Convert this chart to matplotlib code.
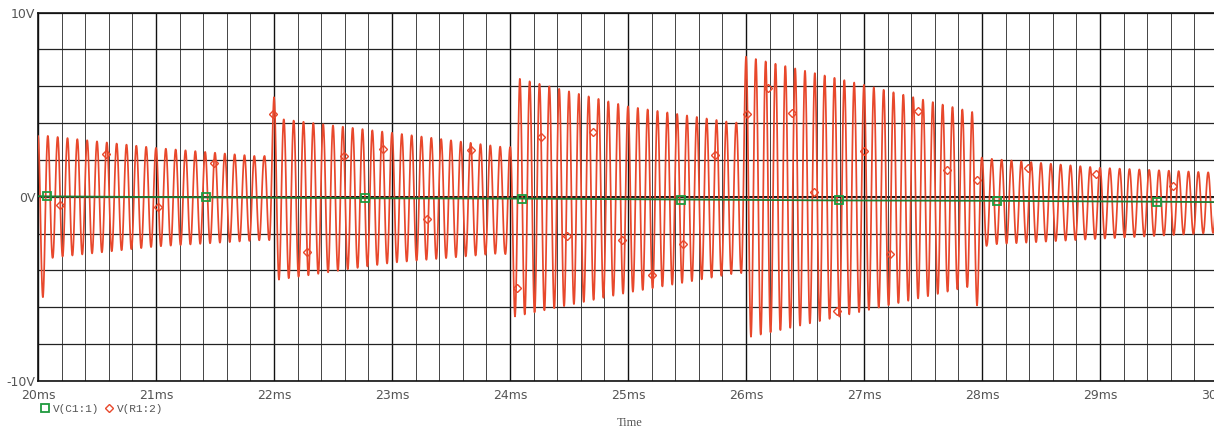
import matplotlib
matplotlib.use("Agg")
import matplotlib.pyplot as plt
import numpy as np
from matplotlib.lines import Line2D

plt.rcParams["path.simplify"] = False

# carrier of the V(R1:2) trace, kHz (about 12 cycles per ms)
carrier_khz = 12.0

# envelope knots (ms, V): upper = peaks, lower = troughs
upper_t = [20.083, 21.0, 21.917, 22.0, 22.083, 23.0, 24.0, 24.083, 25.0, 25.917,
           26.0, 27.0, 27.917, 28.0, 29.0, 30.0]
upper_v = [3.3, 2.65, 2.17, 5.4, 4.2, 3.47, 2.65, 6.4, 4.9, 4.0,
           7.6, 6.07, 4.6, 2.1, 1.57, 1.3]
lower_t = [20.042, 20.125, 21.0, 21.958, 22.042, 23.0, 23.958, 24.042, 25.0, 25.958,
           26.042, 27.0, 27.875, 27.958, 28.042, 29.0, 30.0]
lower_v = [-5.45, -3.3, -2.7, -2.33, -4.5, -3.58, -3.05, -6.5, -5.2, -4.1,
           -7.6, -6.2, -4.9, -5.9, -2.6, -2.28, -1.95]

# V(R1:2) marker symbols
r_mark_t = [20.19, 20.58, 21.02, 21.49, 21.99, 22.28, 22.59, 22.92, 23.30, 23.67,
            24.06, 24.26, 24.48, 24.70, 24.95, 25.20, 25.47, 25.74, 26.01, 26.19,
            26.39, 26.58, 26.77, 27.00, 27.22, 27.46, 27.70, 27.96, 28.39, 28.97, 29.62]
r_mark_v = [-0.43, 2.33, -0.54, 1.84, 4.5, -2.98, 2.22, 2.6, -1.19, 2.55,
            -4.93, 3.25, -2.11, 3.52, -2.33, -4.23, -2.55, 2.28, 4.5, 5.9,
            4.55, 0.27, -6.18, 2.49, -3.09, 4.66, 1.46, 0.92, 1.57, 1.25, 0.6]

# V(C1:1): nearly flat trace with square markers
c_t = [20.0, 20.08, 21.42, 22.77, 24.10, 25.45, 26.79, 28.13, 29.48, 30.0]
c_v = [0.03, 0.02, -0.03, -0.08, -0.1, -0.15, -0.2, -0.22, -0.27, -0.29]
c_mark_t = c_t[1:-1]
c_mark_v = c_v[1:-1]

x_ticks = [20, 21, 22, 23, 24, 25, 26, 27, 28, 29, 30]
x_labels = [f"{v}ms" for v in x_ticks]
y_ticks = [-10, -8, -6, -4, -2, 0, 2, 4, 6, 8, 10]
y_labels = ["-10V", "", "", "", "", "0V", "", "", "", "", "10V"]

RED = "#e8482c"
GREEN = "#1f9a3e"
GREY = "#555555"

t = np.linspace(20.0, 30.0, 24001)
up = np.interp(t, upper_t, upper_v)
lo = np.interp(t, lower_t, lower_v)
v_r = (up + lo) / 2 + (up - lo) / 2 * np.cos(2 * np.pi * carrier_khz * (t - 20.0))

fig = plt.figure(figsize=(12.14, 4.29), dpi=100)
ax = fig.add_axes([38 / 1214, 48 / 429, 1180 / 1214, 368.5 / 429])

ax.set_xlim(20, 30)
ax.set_ylim(-10, 10)
ax.set_xticks(x_ticks)
ax.set_xticklabels(x_labels)
ax.set_xticks(np.arange(20, 30.01, 0.2), minor=True)
ax.set_yticks(y_ticks)
ax.set_yticklabels(y_labels)
ax.tick_params(axis="both", which="both", length=0, labelsize=9, labelcolor=GREY)
ax.tick_params(axis="x", pad=6)
ax.tick_params(axis="y", pad=2)
for lab in ax.get_xticklabels() + ax.get_yticklabels():
    lab.set_fontfamily("DejaVu Sans")

ax.grid(True, which="major", axis="x", color="#111111", lw=1.0)
ax.grid(True, which="minor", axis="x", color="#444444", lw=0.7)
ax.grid(True, which="major", axis="y", color="#222222", lw=0.9)
ax.axhline(0, color="#111111", lw=1.4, zorder=1)
for s in ax.spines.values():
    s.set_color("#111111")
    s.set_linewidth(1.2)

ax.plot(t, v_r, color=RED, lw=1.25, zorder=3)
ax.plot(r_mark_t, r_mark_v, ls="none", marker="D", ms=4, mfc="none",
        mec=RED, mew=1.0, zorder=4)
ax.plot(c_t, c_v, color="#1d7a32", lw=1.3, zorder=5)
ax.plot(c_mark_t, c_mark_v, ls="none", marker="s", ms=5.5, mfc="none",
        mec=GREEN, mew=1.3, zorder=6)

handles = [
    Line2D([], [], ls="none", marker="s", ms=5.5, mfc="none", mec=GREEN, mew=1.3),
    Line2D([], [], ls="none", marker="D", ms=4, mfc="none", mec=RED, mew=1.0),
]
fig.legend(handles, ["V(C1:1)", "V(R1:2)"], loc="center left",
           bbox_to_anchor=(36 / 1214, 1 - 409 / 429), ncol=2, frameon=False,
           handlelength=0.6, handletextpad=0.4, columnspacing=0.6, borderpad=0,
           prop={"family": "Liberation Mono", "size": 8}, labelcolor=GREY)

fig.text(630 / 1214, 1 - 423 / 429, "Time", ha="center", va="center",
         fontsize=9, color=GREY, family="Liberation Serif")

fig.savefig("out.png", dpi=100, facecolor="white")
